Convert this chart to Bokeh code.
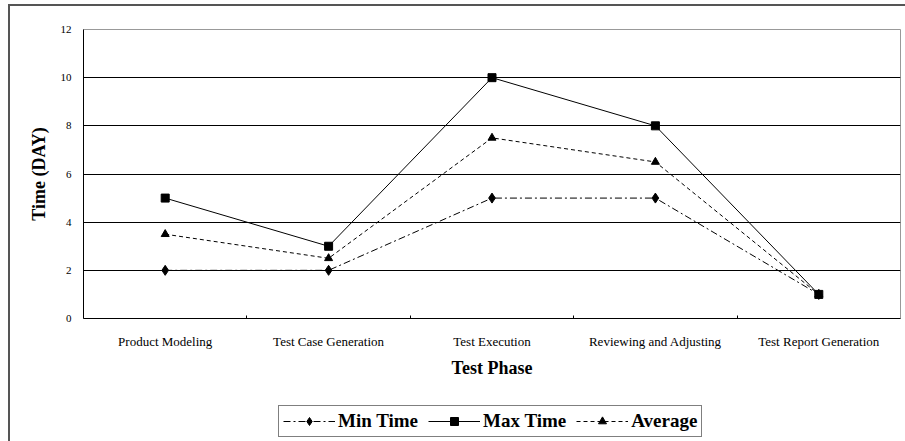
from bokeh.plotting import figure
from bokeh.layouts import column
from bokeh.models import Range1d, FixedTicker, Legend, LegendItem
from bokeh.embed import file_html
from bokeh.resources import INLINE

phases = ["Product Modeling", "Test Case Generation", "Test Execution",
          "Reviewing and Adjusting", "Test Report Generation"]
min_time = [2, 2, 5, 5, 1]
max_time = [5, 3, 10, 8, 1]
average = [3.5, 2.5, 7.5, 6.5, 1]
y_ticks = [0, 2, 4, 6, 8, 10, 12]

xs = [i + 0.5 for i in range(len(phases))]
FONT = "Liberation Serif"

p = figure(width=895, height=390, output_backend="svg", toolbar_location=None,
           x_range=Range1d(0, len(phases)), y_range=Range1d(0, 12),
           min_border_left=73, min_border_right=5, min_border_top=23,
           min_border_bottom=78)

p.outline_line_color = "#999999"
p.xgrid.visible = False
p.ygrid.grid_line_color = "black"
p.ygrid.grid_line_width = 1
p.ygrid.ticker = FixedTicker(ticks=y_ticks)

xa = p.xaxis[0]
xa.ticker = FixedTicker(ticks=xs, minor_ticks=[1, 2, 3, 4])
xa.major_label_overrides = {x: n for x, n in zip(xs, phases)}
xa.major_tick_in = 0
xa.major_tick_out = 0
xa.minor_tick_in = 3
xa.minor_tick_out = 0
xa.minor_tick_line_color = "black"
xa.axis_line_color = "black"
xa.major_label_text_font = FONT
xa.major_label_text_font_size = "13px"
xa.major_label_text_color = "black"
xa.major_label_standoff = 15
xa.axis_label = "Test Phase"
xa.axis_label_text_font = FONT
xa.axis_label_text_font_size = "18px"
xa.axis_label_text_font_style = "bold"
xa.axis_label_text_color = "black"
xa.axis_label_standoff = 6

ya = p.yaxis[0]
ya.ticker = FixedTicker(ticks=y_ticks)
ya.major_tick_in = 0
ya.major_tick_out = 0
ya.minor_tick_in = 0
ya.minor_tick_out = 0
ya.axis_line_color = "black"
ya.major_label_text_font = FONT
ya.major_label_text_font_size = "11px"
ya.major_label_text_color = "black"
ya.major_label_standoff = 12
ya.axis_label = "Time (DAY)"
ya.axis_label_text_font = FONT
ya.axis_label_text_font_size = "18px"
ya.axis_label_text_font_style = "bold"
ya.axis_label_text_color = "black"
ya.axis_label_standoff = 9

styles = [
    dict(line_dash="7 3 2 3", marker="diamond", size=10),
    dict(line_dash="solid", marker="square", size=8),
    dict(line_dash="4 3", marker="triangle", size=8),
]
series = [min_time, max_time, average]
labels = ["Min Time", "Max Time", "Average"]

for vals, st in zip(series, styles):
    p.line(xs, vals, line_color="black", line_width=1, line_dash=st["line_dash"])
    p.scatter(xs, vals, marker=st["marker"], size=st["size"], color="black")

# legend strip below the chart (renderers hold off-range points only)
p2 = figure(width=895, height=45, output_backend="svg", toolbar_location=None,
            x_range=Range1d(0, 1), y_range=Range1d(0, 1),
            x_axis_location=None, y_axis_location=None,
            min_border_left=0, min_border_right=0, min_border_top=0,
            min_border_bottom=0)
p2.grid.visible = False
p2.outline_line_color = None

items = []
for lab, st in zip(labels, styles):
    lr = p2.line([-10, -9], [-10, -9], line_color="black", line_width=1,
                 line_dash=st["line_dash"])
    mr = p2.scatter([-10], [-10], marker=st["marker"], size=st["size"] - 2,
                    color="black")
    items.append(LegendItem(label=lab, renderers=[lr, mr]))

legend = Legend(items=items, orientation="horizontal", location=(195, 4))
legend.label_text_font = FONT
legend.label_text_font_size = "19px"
legend.label_text_font_style = "bold"
legend.label_text_color = "black"
legend.border_line_color = "black"
legend.border_line_width = 1
legend.glyph_width = 52
legend.glyph_height = 20
legend.label_standoff = 3
legend.spacing = 10
legend.padding = 4
legend.margin = 0
legend.background_fill_alpha = 0
p2.add_layout(legend, "center")

layout = column(p, p2, spacing=0,
                styles={"border-left": "2px solid #555", "border-top": "2px solid #555",
                        "margin-left": "8px", "margin-top": "4px"})

open("out.html", "w").write(file_html(layout, INLINE))
